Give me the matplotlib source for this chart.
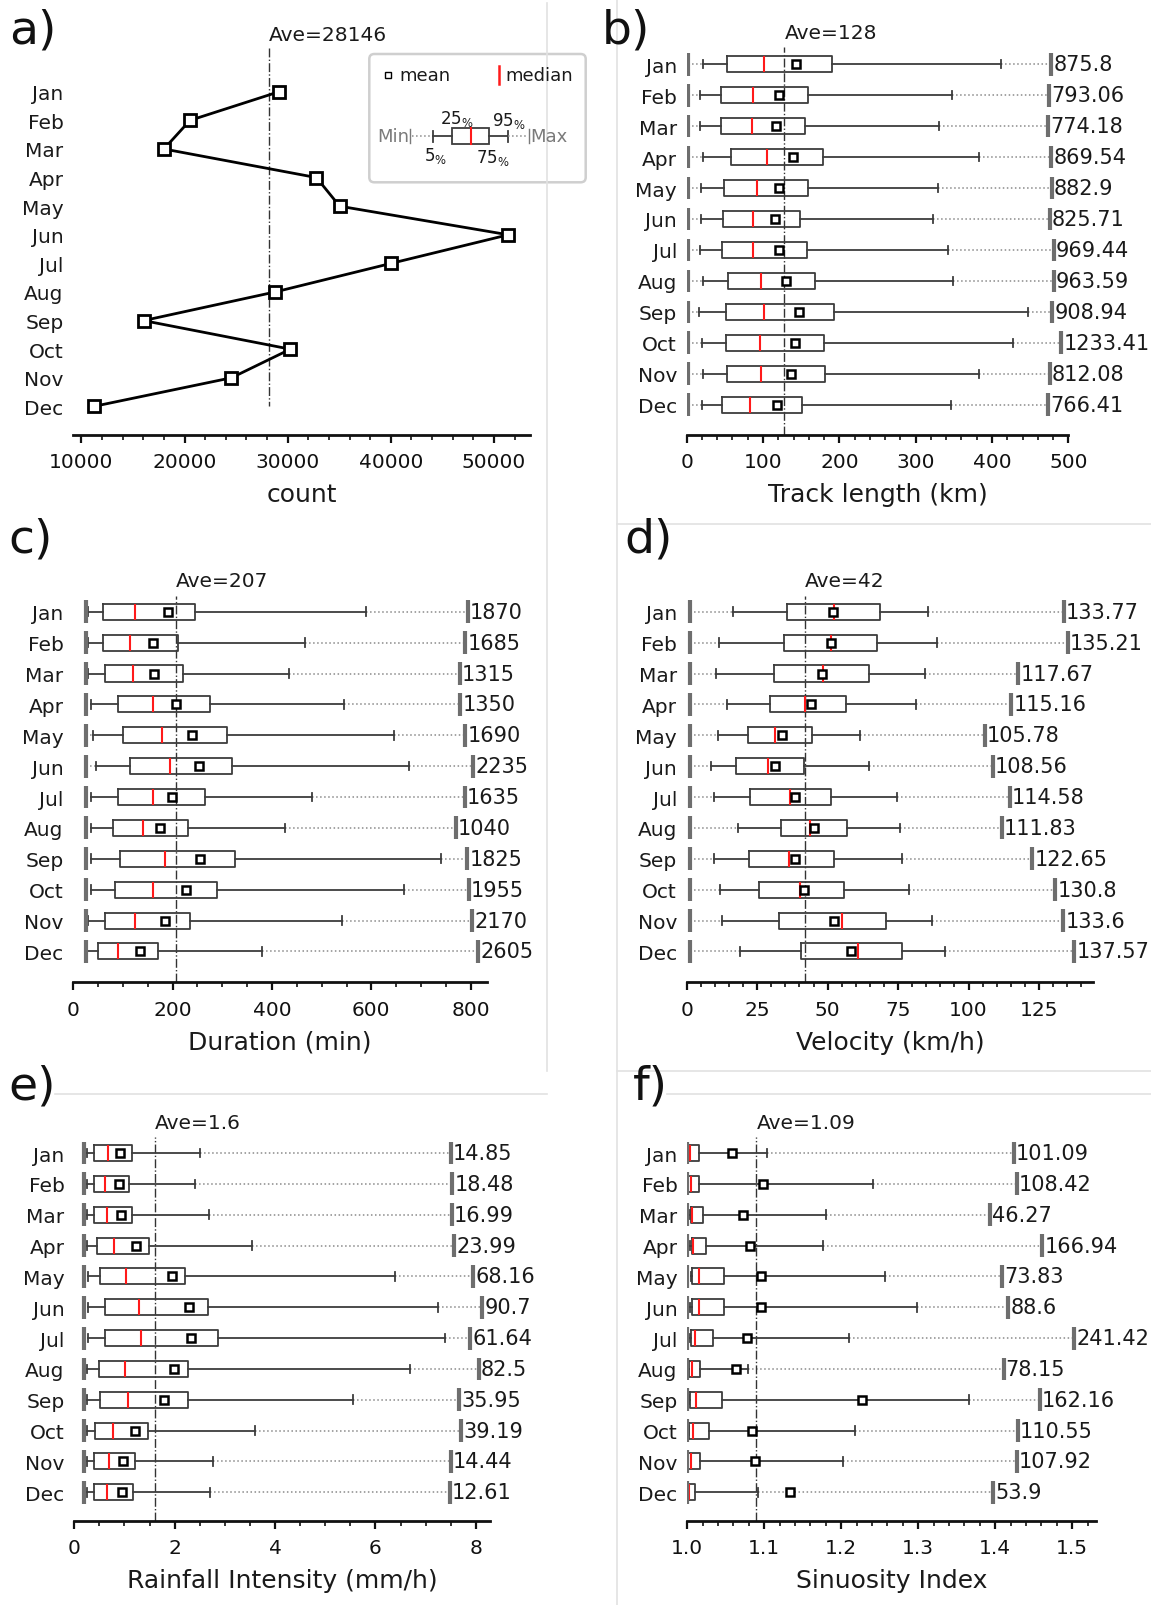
import numpy as np
import matplotlib
matplotlib.use("Agg")
import matplotlib.pyplot as plt
from matplotlib.ticker import MultipleLocator, FormatStrFormatter
from matplotlib.patches import FancyBboxPatch, Rectangle

# ---------------- data ----------------
MONTHS = ['Jan', 'Feb', 'Mar', 'Apr', 'May', 'Jun', 'Jul', 'Aug', 'Sep', 'Oct', 'Nov', 'Dec']

# a) monthly counts
COUNTS = [29150, 20530, 18000, 32790, 35040, 51390, 40030, 28770, 16030, 30260, 24550, 11210]
AVE_COUNT = 28146

# b) track length (km)
TL_MIN = [1.5] * 12
TL_P5 = [21.8, 17.5, 17.5, 21.8, 18.7, 18.3, 17.5, 21.8, 16.6, 20.0, 21.8, 20.4]
TL_Q1 = [52.4, 45.4, 44.5, 58.5, 48.5, 48.0, 45.9, 54.5, 51.0, 51.0, 52.8, 46.7]
TL_MED = [101.0, 86.4, 85.5, 104.8, 91.7, 86.4, 87.3, 97.3, 101.0, 96.0, 97.3, 83.0]
TL_MEAN = [142.8, 121.4, 117.0, 138.8, 121.4, 115.7, 121.0, 130.0, 147.0, 141.5, 136.6, 118.3]
TL_Q3 = [190.8, 159.0, 155.0, 178.0, 159.3, 148.9, 158.0, 167.7, 193.4, 180.3, 180.7, 150.6]
TL_P95 = [411.8, 347.0, 331.0, 383.4, 328.8, 322.3, 341.9, 348.5, 446.7, 427.0, 383.4, 345.8]
TL_MAX = [875.8, 793.06, 774.18, 869.54, 882.9, 825.71, 969.44, 963.59, 908.94, 1233.41, 812.08, 766.41]
TL_AVE = 128

# c) duration (min)
DU_MIN = [25] * 12
DU_P5 = [29, 29, 29, 35, 39.7, 45, 35, 35, 35, 35, 29, 26]
DU_Q1 = [59.8, 60, 64.4, 89.4, 99.4, 114.8, 90, 80, 94.6, 84.6, 64.4, 50.3]
DU_MED = [124.9, 114.8, 120.2, 159.8, 179.2, 194.7, 159.8, 139.7, 185.2, 159.8, 125, 90.6]
DU_MEAN = [191.3, 160.5, 163, 206.8, 238.3, 253.7, 199.3, 174.6, 255, 227.5, 185.2, 134.3]
DU_Q3 = [245, 210, 220, 275, 310, 320, 265, 230.3, 325, 290, 235.6, 170]
DU_P95 = [589, 465.8, 434.9, 545, 645, 675, 480.6, 426.2, 740, 665, 541, 380.5]
DU_MAX = [1870, 1685, 1315, 1350, 1690, 2235, 1635, 1040, 1825, 1955, 2170, 2605]
DU_AVE = 207

# d) velocity (km/h)
VE_MIN = [1.0] * 12
VE_P5 = [16.5, 11.5, 10.3, 14.4, 11.2, 8.6, 9.8, 18.3, 9.8, 11.8, 12.6, 18.9]
VE_Q1 = [35.6, 34.4, 31.1, 29.6, 21.9, 17.4, 22.6, 33.4, 22.2, 25.8, 32.9, 40.5]
VE_MED = [52.2, 51.2, 48.5, 42.0, 31.4, 28.9, 36.8, 43.9, 36.2, 40.2, 55.1, 60.9]
VE_MEAN = [51.8, 51.1, 48.0, 44.0, 33.8, 31.2, 38.3, 45.3, 38.4, 41.6, 52.3, 58.4]
VE_Q3 = [68.5, 67.6, 64.8, 56.6, 44.6, 41.5, 51.3, 56.8, 52.4, 55.7, 70.8, 76.4]
VE_P95 = [85.6, 88.7, 84.7, 81.3, 61.5, 64.8, 74.6, 75.8, 76.4, 79.0, 86.9, 91.8]
VE_MAX = [133.77, 135.21, 117.67, 115.16, 105.78, 108.56, 114.58, 111.83, 122.65, 130.8, 133.6, 137.57]
VE_AVE = 42

# e) rainfall intensity (mm/h)
RI_MIN = [0.2] * 12
RI_P5 = [0.245, 0.245, 0.245, 0.25, 0.27, 0.28, 0.28, 0.26, 0.26, 0.245, 0.245, 0.245]
RI_Q1 = [0.40, 0.39, 0.39, 0.45, 0.51, 0.62, 0.62, 0.50, 0.52, 0.42, 0.40, 0.40]
RI_MED = [0.67, 0.62, 0.65, 0.80, 1.03, 1.28, 1.33, 1.02, 1.07, 0.77, 0.69, 0.66]
RI_MEAN = [0.92, 0.89, 0.94, 1.22, 1.94, 2.29, 2.32, 1.99, 1.78, 1.20, 0.98, 0.95]
RI_Q3 = [1.15, 1.09, 1.14, 1.49, 2.21, 2.66, 2.87, 2.27, 2.26, 1.46, 1.21, 1.17]
RI_P95 = [2.50, 2.40, 2.68, 3.54, 6.39, 7.24, 7.39, 6.68, 5.56, 3.60, 2.77, 2.71]
RI_MAX = [14.85, 18.48, 16.99, 23.99, 68.16, 90.7, 61.64, 82.5, 35.95, 39.19, 14.44, 12.61]
RI_AVE = 1.6

# f) sinuosity index
SI_MIN = [1.0] * 12
SI_P5 = [1.001, 1.001, 1.0035, 1.004, 1.0045, 1.004, 1.004, 1.0015, 1.002, 1.002, 1.0015, 1.001]
SI_Q1 = [1.0015, 1.0015, 1.0056, 1.0058, 1.0058, 1.0058, 1.0048, 1.0022, 1.0035, 1.003, 1.0018, 1.0015]
SI_MED = [1.004, 1.0045, 1.0069, 1.0082, 1.016, 1.016, 1.010, 1.0065, 1.012, 1.0082, 1.0045, 1.0026]
SI_MEAN = [1.058, 1.0987, 1.072, 1.082, 1.096, 1.096, 1.078, 1.064, 1.2277, 1.084, 1.088, 1.133]
SI_Q3 = [1.0156, 1.0156, 1.021, 1.024, 1.048, 1.0485, 1.033, 1.0173, 1.045, 1.029, 1.0165, 1.010]
SI_P95 = [1.104, 1.2416, 1.181, 1.177, 1.2576, 1.298, 1.21, 1.079, 1.3667, 1.218, 1.2026, 1.092]
SI_MAX = [101.09, 108.42, 46.27, 166.94, 73.83, 88.6, 241.42, 78.15, 162.16, 110.55, 107.92, 53.9]
SI_AVE = 1.09

# ---------------- figure ----------------
W, H = 1151, 1606
fig = plt.figure(figsize=(W / 100, H / 100), dpi=100)
fig.patch.set_facecolor('white')

TXT = '#1a1a1a'
EDGE = '#3d3d3d'
POS = np.arange(len(MONTHS))


def rect(x0, x1, yt, yb):
    return [x0 / W, 1 - yb / H, (x1 - x0) / W, (yb - yt) / H]


def style_axis(ax, xlim, ylim, major, minor, fmt, xlabel):
    ax.set_xlim(*xlim)
    ax.set_ylim(*ylim)
    for s in ('left', 'top', 'right'):
        ax.spines[s].set_visible(False)
    ax.spines['bottom'].set_linewidth(2)
    ax.spines['bottom'].set_color('#111111')
    ax.xaxis.set_major_locator(MultipleLocator(major))
    ax.xaxis.set_minor_locator(MultipleLocator(minor))
    ax.xaxis.set_major_formatter(FormatStrFormatter(fmt))
    ax.tick_params(axis='x', which='major', length=6, width=1.6, labelsize=14.5, pad=6.5, colors='#111111')
    ax.tick_params(axis='x', which='minor', length=3.5, width=1.2, colors='#111111')
    ax.set_yticks(POS)
    ax.set_yticklabels(MONTHS)
    ax.tick_params(axis='y', length=0, pad=7, labelsize=14.5, labelcolor=TXT)
    ax.set_xlabel(xlabel, fontsize=18, labelpad=8, color=TXT)
    ax.patch.set_alpha(0)


def box_panel(r, xlim, ylim, mins, p5, q1, med, mean, q3, p95, maxv, scale,
              ave, major, minor, fmt, xlabel):
    ax = fig.add_axes(rect(*r))
    style_axis(ax, xlim, ylim, major, minor, fmt, xlabel)
    maxv = np.asarray(maxv, float)
    if scale is None:
        disp = maxv
    else:
        v0, p0, k = scale
        disp = p0 + k * (maxv - v0)
    ax.hlines(POS, mins, p5, colors='#8a8a8a', linestyles=':', lw=1.1, zorder=1)
    ax.hlines(POS, p95, disp, colors='#8a8a8a', linestyles=':', lw=1.1, zorder=1)
    stats = [dict(whislo=p5[i], q1=q1[i], med=med[i], q3=q3[i], whishi=p95[i],
                  mean=mean[i], fliers=[]) for i in range(len(POS))]
    ax.bxp(stats, positions=POS, widths=0.52, capwidths=0.28, orientation='horizontal',
           showmeans=True, showfliers=False, manage_ticks=False,
           boxprops=dict(color=EDGE, lw=1.3),
           whiskerprops=dict(color=EDGE, lw=1.3),
           capprops=dict(color=EDGE, lw=1.3),
           medianprops=dict(color='#ff1a1a', lw=1.5),
           meanprops=dict(marker='s', markersize=5.5, markerfacecolor='white',
                          markeredgecolor='black', markeredgewidth=1.8))
    ax.vlines(mins, POS - 0.37, POS + 0.37, colors='#6e6e6e', lw=3, zorder=4)
    ax.vlines(disp, POS - 0.37, POS + 0.37, colors='#6e6e6e', lw=3, zorder=4)
    for p, d, v in zip(POS, disp, maxv):
        ax.annotate(f'{v:g}', xy=(d, p), xytext=(1.5, 0), textcoords='offset points',
                    va='center', ha='left', fontsize=15, color=TXT, annotation_clip=False)
    ax.axvline(ave, color='#333333', ls='-.', lw=1, zorder=1.5)
    ax.text(ave, ylim[1] - 0.3, f'Ave={ave:g}', ha='left', va='baseline',
            fontsize=14.5, color=TXT)
    return ax


# a) counts
axa = fig.add_axes(rect(73.2, 529.6, 49.3, 435.7))
style_axis(axa, (9204, 53460), (11.99, -1.52), 10000, 2000, '%d', 'count')
axa.plot(COUNTS, POS, color='black', lw=2, marker='s', ms=9, mfc='white',
         mec='black', mew=2, zorder=3)
axa.plot([AVE_COUNT, AVE_COUNT], [-1.52, POS[-1]], color='#333333', ls='-.', lw=1, zorder=1)
axa.text(AVE_COUNT, -1.82, f'Ave={AVE_COUNT}', ha='left', va='baseline', fontsize=14.5, color=TXT)

# b) track length
box_panel((686.7, 1068.3, 48.0, 436.0), (0, 500), (11.97, -0.55),
          TL_MIN, TL_P5, TL_Q1, TL_MED, TL_MEAN, TL_Q3, TL_P95, TL_MAX,
          (766.41, 473.7, 0.037), TL_AVE, 100, 20, '%d', 'Track length (km)')

# c) duration
box_panel((73.3, 486.6, 596.7, 983.3), (0, 832), (12.0, -0.52),
          DU_MIN, DU_P5, DU_Q1, DU_MED, DU_MEAN, DU_Q3, DU_P95, DU_MAX,
          (1040, 770.5, 0.0287), DU_AVE, 200, 50, '%d', 'Duration (min)')

# d) velocity
box_panel((686.7, 1093.4, 596.7, 983.3), (0, 144.3), (12.0, -0.52),
          VE_MIN, VE_P5, VE_Q1, VE_MED, VE_MEAN, VE_Q3, VE_P95, VE_MAX,
          None, VE_AVE, 25, 5, '%d', 'Velocity (km/h)')

# e) rainfall
box_panel((74.3, 489.9, 1138.3, 1522.0), (0, 8.28), (11.93, -0.51),
          RI_MIN, RI_P5, RI_Q1, RI_MED, RI_MEAN, RI_Q3, RI_P95, RI_MAX,
          (12.61, 7.48, 0.00832), RI_AVE, 2, 0.5, '%d', 'Rainfall Intensity (mm/h)')

# f) sinuosity
box_panel((687.1, 1096.0, 1138.3, 1522.0), (1.0, 1.531), (11.93, -0.51),
          SI_MIN, SI_P5, SI_Q1, SI_MED, SI_MEAN, SI_Q3, SI_P95, SI_MAX,
          (46.27, 1.393, 0.000564), SI_AVE, 0.1, 0.02, '%.1f', 'Sinuosity Index')

# ---------------- overlay: legend, separators, panel letters ----------------
ov = fig.add_axes([0, 0, 1, 1], zorder=10)
ov.set_xlim(0, W)
ov.set_ylim(H, 0)
ov.axis('off')
ov.patch.set_alpha(0)

ov.add_patch(FancyBboxPatch((369.3, 55), 216.4, 128.3,
                            boxstyle='round,pad=0,rounding_size=5',
                            fc='white', ec='#cfcfcf', lw=1.8))
ov.plot([388.3], [75.7], 's', ms=4.5, mfc='white', mec='black', mew=1)
ov.text(399, 75.7, 'mean', va='center', ha='left', fontsize=13, color=TXT)
ov.plot([499.3, 499.3], [67.3, 85], color='#ff1a1a', lw=1.8)
ov.text(505.7, 75.7, 'median', va='center', ha='left', fontsize=13, color=TXT)

yl = 137
GRAY = '#7a7a7a'
ov.text(409, yl, 'Min', ha='right', va='center', color=GRAY, fontsize=13)
ov.plot([410.5, 410.5], [130, 144], color=GRAY, lw=1)
ov.plot([412, 433.3], [yl, yl], color='#8a8a8a', ls=':', lw=1.1)
ov.plot([433.3, 433.3], [131.5, 142.5], color=EDGE, lw=1.3)
ov.plot([433.3, 452.3], [yl, yl], color=EDGE, lw=1.3)
ov.add_patch(Rectangle((452.3, 129.3), 37, 15.7, fill=False, ec=EDGE, lw=1.3))
ov.plot([470.7, 470.7], [129.3, 145], color='#ff1a1a', lw=1.5)
ov.plot([489.3, 507.7], [yl, yl], color=EDGE, lw=1.3)
ov.plot([507.7, 507.7], [131.5, 142.5], color=EDGE, lw=1.3)
ov.plot([508, 528], [yl, yl], color='#8a8a8a', ls=':', lw=1.1)
ov.plot([529, 529], [130, 144], color=GRAY, lw=1)
ov.text(530.5, yl, 'Max', ha='left', va='center', color=GRAY, fontsize=13)
ov.text(457, 119, r'$25_{\%}$', ha='center', va='center', fontsize=12, color=TXT)
ov.text(509, 121, r'$95_{\%}$', ha='center', va='center', fontsize=12, color=TXT)
ov.text(436, 156, r'$5_{\%}$', ha='center', va='center', fontsize=12, color=TXT)
ov.text(492.5, 158.3, r'$75_{\%}$', ha='center', va='center', fontsize=12, color=TXT)

SEP = '#e2e2e2'
ov.plot([547.5, 547.5], [4, 1072], color=SEP, lw=1.2)
ov.plot([617.5, 617.5], [0, H], color=SEP, lw=1.2)
ov.plot([617.5, W], [525, 525], color=SEP, lw=1.2)
ov.plot([617.5, W], [1072, 1072], color=SEP, lw=1.2)
ov.plot([55, 547.5], [1095, 1095], color=SEP, lw=1.2)
ov.plot([667, W], [1095, 1095], color=SEP, lw=1.2)

for lbl, x, y in [('a)', 9, 31), ('b)', 602, 31), ('c)', 8, 540),
                  ('d)', 624, 540), ('e)', 8, 1087), ('f)', 633, 1087)]:
    ov.text(x, y, lbl, ha='left', va='center', fontsize=34, color='#111111')

fig.savefig('out.png', dpi=100)
